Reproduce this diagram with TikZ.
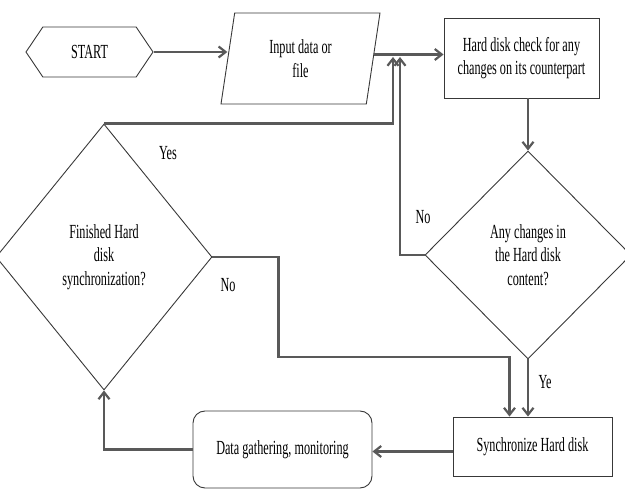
\documentclass[tikz,border=0pt]{standalone}
\usepackage{fontspec}
\setmainfont[FakeStretch=0.61]{Liberation Serif}
\usetikzlibrary{shapes.geometric,shapes.symbols,arrows.meta}
\tikzset{
  shapeline/.style={draw=black!78, line width=0.9pt, font=\fontsize{20}{23.5}\selectfont, align=center, inner sep=0pt},
  conn/.style={draw=black!65, line width=2.2pt},
  arr/.style={conn, -{Straight Barb[length=7pt,width=11pt]}},
  lbl/.style={font=\fontsize{20}{23.5}\selectfont, inner sep=0pt}
}
\begin{document}
\begin{tikzpicture}[x=1pt,y=-1pt]
\useasboundingbox (0,0) rectangle (625,489);
\node[shapeline, signal, signal to=west and east, signal pointer angle=112, minimum width=127pt, minimum height=50pt] (start) at (89.5,52) {START};
\node[shapeline, trapezium, trapezium left angle=70, trapezium right angle=110, trapezium stretches body, minimum width=159pt, minimum height=91pt] (input) at (300.5,58.5) {Input data or\\file};
\node[shapeline, rectangle, minimum width=155pt, minimum height=80pt] (check) at (521.5,58) {Hard disk check for any\\changes on its counterpart};
\node[shapeline, diamond, minimum width=206pt, minimum height=208pt] (d1) at (528,255) {Any changes in\\the Hard disk\\content?};
\node[shapeline, diamond, minimum width=216pt, minimum height=266pt] (d2) at (104,257) {Finished Hard\\disk\\synchronization?};
\node[shapeline, rectangle, minimum width=159pt, minimum height=59pt] (sync) at (532.5,446.5) {Synchronize Hard disk};
\node[shapeline, rectangle, rounded corners=12pt, minimum width=179pt, minimum height=77pt] (data) at (282.5,449.5) {Data gathering, monitoring};
\coordinate (m1) at (393,57);
\coordinate (m2) at (400,57);
\draw[arr] (start.east) -- (start.east -| input.west);
\draw[arr] ([yshift=4pt]input.east) -- ([yshift=4pt]input.east -| check.west);
\draw[arr] (check.south -| d1.north) -- (d1.north);
\draw[arr] (d1.west) -| (m2);
\draw[arr] (d2.north) -| (m1);
\draw[arr] (d2.east) -- ++(66,0) -- ++(0,100) -| ([xshift=-23pt]sync.north);
\draw[arr] (d1.south) -- (d1.south |- sync.north);
\draw[arr] ([yshift=-5pt]sync.west) -- ([yshift=-5pt]sync.west -| data.east);
\draw[arr] (data.west) -| (d2.south);
\node[lbl] (yes) at (168,153) {Yes};
\node[lbl] (no1) at (228,285) {No};
\node[lbl] (no2) at (423,217) {No};
\node[lbl] (ye) at (545,382) {Ye};
\end{tikzpicture}
\end{document}
